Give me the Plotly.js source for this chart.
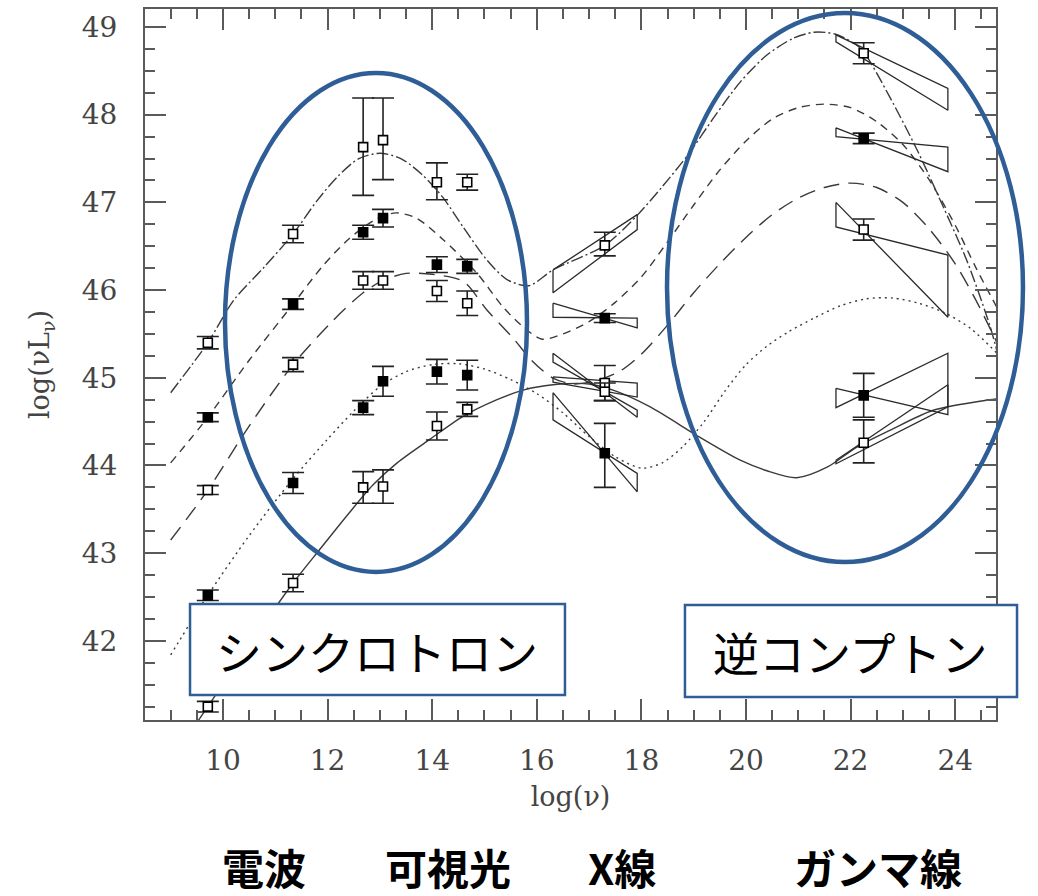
<!DOCTYPE html>
<html>
<head>
<meta charset="utf-8">
<script src="https://cdn.plot.ly/plotly-3.0.1.min.js"></script>
<style>html,body{margin:0;padding:0;background:#fff;}#chart{width:1038px;height:896px;}</style>
</head>
<body>
<div id="chart"></div>
<script>
// ---------- data (log nu, log nuL_nu) ----------
const obsX = [9.71, 11.34, 12.68, 13.06, 14.09, 14.67, 17.30, 22.25];

const s1Y = [45.40, 46.64, 47.63, 47.71, 47.23, 47.23, 46.51, 48.70];
const s1Up = [0.07, 0.10, 0.56, 0.48, 0.22, 0.09, 0.15, 0.12];
const s1Dn = [0.07, 0.10, 0.55, 0.45, 0.20, 0.09, 0.12, 0.12];

const s2Y = [44.55, 45.84, 46.66, 46.82, 46.29, 46.27, 45.68, 47.73];
const s2Err = [0.05, 0.06, 0.08, 0.10, 0.09, 0.08, 0.05, 0.06];

const s3Y = [43.72, 45.15, 46.11, 46.11, 45.99, 45.85, 44.94, 46.69];
const s3Err = [0.05, 0.08, 0.10, 0.10, 0.12, 0.14, 0.20, 0.12];

const s4Y = [42.52, 43.80, 44.66, 44.96, 45.07, 45.03, 44.14, 44.80];
const s4Up = [0.06, 0.12, 0.08, 0.17, 0.14, 0.17, 0.34, 0.25];
const s4Dn = [0.06, 0.12, 0.08, 0.17, 0.14, 0.17, 0.39, 0.25];

const s5Y = [41.25, 42.66, 43.75, 43.76, 44.45, 44.64, 44.84, 44.26];
const s5Up = [0.06, 0.10, 0.18, 0.19, 0.16, 0.08, 0.10, 0.26];
const s5Dn = [0.06, 0.10, 0.18, 0.19, 0.16, 0.08, 0.10, 0.23];

// model curves
const m1X = [9.0, 9.71, 10.2, 10.8, 11.34, 11.8, 12.2, 12.6, 13.0, 13.4, 13.8, 14.2, 14.59, 15.05, 15.43, 15.85, 16.31, 17.3, 17.9, 18.4, 18.9, 19.4, 19.9, 20.4, 20.9, 21.3, 21.7, 22.1, 22.27, 22.75, 23.27, 23.71, 24.22, 24.66, 24.8];
const m1Y = [44.83, 45.40, 45.88, 46.27, 46.64, 47.02, 47.30, 47.50, 47.56, 47.50, 47.32, 47.06, 46.72, 46.34, 46.12, 46.05, 46.23, 46.51, 46.84, 47.18, 47.55, 47.98, 48.38, 48.68, 48.87, 48.94, 48.92, 48.80, 48.70, 48.20, 47.60, 47.03, 46.34, 45.60, 45.30];

const m2X = [9.0, 9.71, 10.5, 11.34, 11.9, 12.4, 12.9, 13.3, 13.7, 14.2, 14.86, 15.35, 15.74, 16.1, 16.5, 17.0, 17.5, 18.0, 18.5, 19.0, 19.5, 20.0, 20.5, 21.0, 21.5, 22.0, 22.5, 23.0, 23.5, 24.0, 24.4, 24.8];
const m2Y = [44.03, 44.55, 45.20, 45.84, 46.27, 46.58, 46.80, 46.88, 46.82, 46.58, 46.19, 45.81, 45.58, 45.44, 45.50, 45.64, 45.86, 46.15, 46.55, 46.97, 47.37, 47.70, 47.95, 48.08, 48.12, 48.08, 47.92, 47.66, 47.26, 46.74, 46.25, 45.80];

const m3X = [9.0, 9.71, 10.5, 11.34, 12.05, 12.68, 13.06, 13.5, 14.0, 14.59, 15.05, 15.55, 15.9, 16.3, 16.7, 17.2, 17.6, 18.0, 18.5, 19.0, 19.5, 20.0, 20.5, 21.0, 21.5, 22.0, 22.5, 23.0, 23.5, 24.0, 24.4, 24.8];
const m3Y = [43.15, 43.72, 44.45, 45.15, 45.62, 45.97, 46.11, 46.19, 46.18, 46.10, 45.77, 45.45, 45.20, 45.00, 44.93, 44.98, 45.08, 45.27, 45.60, 45.97, 46.30, 46.60, 46.86, 47.05, 47.17, 47.22, 47.17, 47.00, 46.70, 46.30, 45.88, 45.40];

const m4X = [9.0, 9.71, 10.5, 11.34, 12.0, 12.5, 13.0, 13.5, 14.0, 14.5, 15.0, 15.5, 16.0, 16.5, 17.0, 17.5, 18.0, 18.4, 18.8, 19.2, 19.6, 20.0, 20.4, 20.8, 21.3, 21.8, 22.3, 22.8, 23.3, 23.8, 24.3, 24.8];
const m4Y = [41.84, 42.52, 43.20, 43.85, 44.30, 44.62, 44.90, 45.07, 45.15, 45.16, 45.10, 44.98, 44.82, 44.60, 44.33, 44.10, 43.97, 44.03, 44.22, 44.50, 44.85, 45.15, 45.36, 45.52, 45.68, 45.82, 45.90, 45.91, 45.85, 45.74, 45.56, 45.28];

const m5X = [9.4, 9.71, 10.5, 11.34, 11.86, 12.4, 12.87, 13.33, 13.96, 14.59, 15.24, 15.74, 16.31, 17.0, 17.5, 18.16, 19.12, 19.89, 20.4, 20.97, 21.55, 22.12, 22.75, 23.58, 24.66, 24.8];
const m5Y = [40.98, 41.25, 41.95, 42.66, 43.05, 43.45, 43.78, 44.03, 44.30, 44.56, 44.75, 44.86, 44.92, 44.93, 44.85, 44.67, 44.32, 44.06, 43.94, 43.86, 43.98, 44.21, 44.40, 44.63, 44.75, 44.76];

// bow-ties: band edges (log nu) and the two spectral-slope lines (value at left edge, right edge), one per source
const xrayBand = [16.31, 17.92];
const xrayA_L = [46.23, 45.85, 45.01, 44.83, 45.28];
const xrayA_R = [46.86, 45.57, 44.94, 43.70, 44.55];
const xrayB_L = [45.97, 45.69, 44.95, 44.52, 45.18];
const xrayB_R = [46.69, 45.68, 44.78, 43.91, 44.63];

const gammaBand = [21.72, 23.86];
const gammaA_L = [48.91, 47.85, 47.00, 44.88, 44.06];
const gammaA_R = [48.30, 47.35, 45.69, 44.58, 44.92];
const gammaB_L = [48.83, 47.75, 46.72, 44.66, 44.02];
const gammaB_R = [48.05, 47.63, 46.40, 45.28, 44.67];

const bandLabels = ['電波', '可視光', 'X線', 'ガンマ線'];
const processLabels = ['シンクロトロン', '逆コンプトン'];

// ---------- traces ----------
const ink = '#3a3a3a';
const traces = [];
const models = [
  [m1X, m1Y, '12px,3px,2px,3px'],
  [m2X, m2Y, '8px,6px'],
  [m3X, m3Y, '16px,9px'],
  [m4X, m4Y, '2px,4px'],
  [m5X, m5Y, 'solid']
];
models.forEach(m => traces.push({
  x: m[0], y: m[1], mode: 'lines', type: 'scatter', hoverinfo: 'skip',
  line: {color: ink, width: 1.4, dash: m[2], shape: 'spline', smoothing: 0.8}
}));

function bowtie(band, aL, aR, bL, bR) {
  for (let i = 0; i < aL.length; i++) {
    traces.push({
      x: [band[0], band[1], band[1], band[0], band[0]],
      y: [aL[i], aR[i], bR[i], bL[i], aL[i]],
      mode: 'lines', type: 'scatter', hoverinfo: 'skip',
      line: {color: '#2a2a2a', width: 1.3}
    });
  }
}
bowtie(xrayBand, xrayA_L, xrayA_R, xrayB_L, xrayB_R);
bowtie(gammaBand, gammaA_L, gammaA_R, gammaB_L, gammaB_R);

function pts(y, up, dn, filled) {
  traces.push({
    x: obsX, y: y, mode: 'markers', type: 'scatter',
    marker: {symbol: 'square', size: 9, color: filled ? '#000' : '#fff', line: {color: '#000', width: 1.6}},
    error_y: {type: 'data', array: up, arrayminus: dn, symmetric: false, color: '#222', thickness: 1.6, width: 11}
  });
}
pts(s1Y, s1Up, s1Dn, false);
pts(s2Y, s2Err, s2Err, true);
pts(s3Y, s3Err, s3Err, false);
pts(s4Y, s4Up, s4Dn, true);
pts(s5Y, s5Up, s5Dn, false);

// ---------- layout ----------
const axisCol = '#5a5a5a';
const tickFont = {family: 'DejaVu Serif, serif', size: 28, color: '#444'};
const blue = '#2f5d95';

const layout = {
  width: 1038, height: 896,
  margin: {l: 145, r: 42, t: 9, b: 176},
  paper_bgcolor: '#fff', plot_bgcolor: '#fff',
  showlegend: false,
  xaxis: {
    range: [8.509, 24.78], dtick: 2, tick0: 0,
    ticks: 'inside', ticklen: 21, tickwidth: 2, tickcolor: axisCol,
    minor: {dtick: 0.5, ticks: 'inside', ticklen: 10, tickwidth: 2, tickcolor: axisCol},
    showline: true, linecolor: axisCol, linewidth: 2, mirror: 'ticks',
    showgrid: false, zeroline: false,
    tickfont: tickFont, ticklabelstandoff: 14,
    title: {text: 'log(ν)', font: {family: 'DejaVu Serif, serif', size: 27, color: '#444'}, standoff: 12}
  },
  yaxis: {
    range: [41.098, 49.205], dtick: 1, tick0: 0,
    ticks: 'inside', ticklen: 21, tickwidth: 2, tickcolor: axisCol,
    minor: {dtick: 0.25, ticks: 'inside', ticklen: 10, tickwidth: 2, tickcolor: axisCol},
    showline: true, linecolor: axisCol, linewidth: 2, mirror: 'ticks',
    showgrid: false, zeroline: false,
    tickfont: tickFont, ticklabelstandoff: 20,
    title: {text: 'log(νL<sub>ν</sub>)', font: {family: 'DejaVu Serif, serif', size: 27, color: '#444'}, standoff: 24}
  },
  shapes: [
    {type: 'circle', xref: 'paper', yref: 'paper', x0: 0.094, x1: 0.4489, y0: 0.2082, y1: 0.910,
     line: {color: blue, width: 4.5}, layer: 'above'},
    {type: 'circle', xref: 'paper', yref: 'paper', x0: 0.6134, x1: 1.0317, y0: 0.2222, y1: 0.9944,
     line: {color: blue, width: 4.5}, layer: 'above'},
    {type: 'rect', xref: 'paper', yref: 'paper', x0: 0.0529, x1: 0.4935, y0: 0.035, y1: 0.1632,
     line: {color: blue, width: 2.5}, fillcolor: '#fff', layer: 'above'},
    {type: 'rect', xref: 'paper', yref: 'paper', x0: 0.6345, x1: 1.0247, y0: 0.0324, y1: 0.1618,
     line: {color: blue, width: 2.5}, fillcolor: '#fff', layer: 'above'}
  ],
  annotations: [
    {text: processLabels[0], xref: 'paper', yref: 'paper', x: 0.2732, y: 0.099, xanchor: 'center', yanchor: 'middle',
     showarrow: false, font: {family: 'Noto Sans CJK JP', size: 46, color: '#000'}},
    {text: processLabels[1], xref: 'paper', yref: 'paper', x: 0.8296, y: 0.097, xanchor: 'center', yanchor: 'middle',
     showarrow: false, font: {family: 'Noto Sans CJK JP', size: 46, color: '#000'}}
  ]
};
const bandPx = [264, 448, 622, 878];
bandLabels.forEach((t, i) => layout.annotations.push({
  text: '<b>' + t + '</b>', xref: 'paper', yref: 'paper',
  x: (bandPx[i] - 145) / 851, y: (720 - 866) / 711, xanchor: 'center', yanchor: 'middle',
  showarrow: false, font: {family: 'Noto Sans CJK JP', size: 42, color: '#000'}
}));

Plotly.newPlot('chart', traces, layout, {staticPlot: true, displayModeBar: false});
</script>
</body>
</html>
